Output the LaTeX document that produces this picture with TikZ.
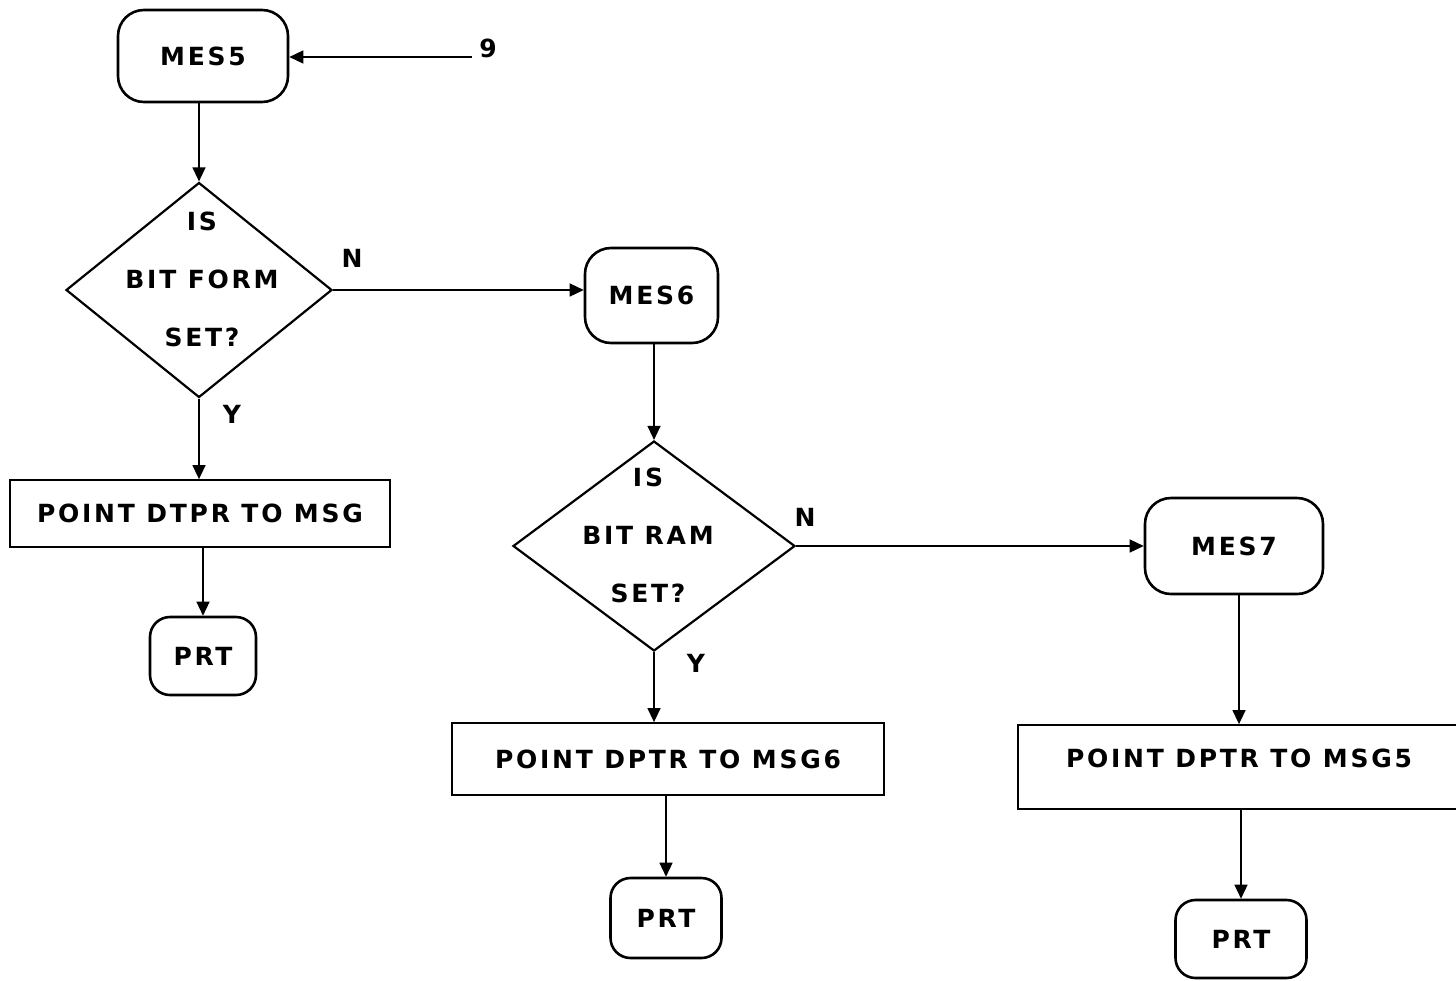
\documentclass[tikz,border=0pt]{standalone}
\usepackage{fontspec}
\setmainfont{DejaVu Sans}[LetterSpace=11]
\usetikzlibrary{shapes.geometric,arrows.meta}

\begin{document}
\begin{tikzpicture}[
  x=0.5pt, y=-0.5pt,
  txt/.style={font=\fontsize{12.5}{14}\selectfont\bfseries},
  term/.style={draw, line width=1.3pt, rounded corners=13pt, inner sep=0pt, txt},
  proc/.style={draw, line width=0.9pt, rectangle, inner sep=0pt, txt},
  decision/.style={draw, diamond, line width=1.1pt, inner sep=0pt},
  dtext/.style={align=center, inner sep=0pt, font=\fontsize{12.5}{29}\selectfont\bfseries},
  flow/.style={line width=0.7pt, -{Triangle[length=7pt,width=6.5pt]}},
  lbl/.style={inner sep=0pt, txt}
]
\useasboundingbox (0,0) rectangle (1456,980);

% entry point
\node[term, minimum width=85pt, minimum height=46pt] (m5) at (203,56) {MES5};
\node[lbl] (in9) at (488,48) {9};
\coordinate (c9) at (472,57);

% first test
\node[decision, minimum width=133pt, minimum height=107.5pt] (d1) at (199,290) {};
\node[dtext] (d1t) at (202,279) {IS\\BIT FORM\\SET?};
\node[lbl] (n1) at (352,258) {N};
\node[lbl] (y1) at (232,414) {Y};
\node[proc, minimum width=190pt, minimum height=33.5pt] (p1) at (200,513.5) {POINT DTPR TO MSG};
\node[term, rounded corners=10pt, minimum width=53pt, minimum height=39pt] (r1) at (203,656) {PRT};

% second test
\node[term, minimum width=66.5pt, minimum height=47.5pt] (m6) at (651.5,295.5) {MES6};
\node[decision, minimum width=141pt, minimum height=105pt] (d2) at (654,546) {};
\node[dtext] (d2t) at (648,535) {IS\\BIT RAM\\SET?};
\node[lbl] (n2) at (805,517) {N};
\node[lbl] (y2) at (696,663) {Y};
\node[proc, minimum width=216pt, minimum height=36pt] (p2) at (668,759) {POINT DPTR TO MSG6};
\node[term, rounded corners=10pt, minimum width=55.5pt, minimum height=40pt] (r2) at (666,918) {PRT};

% third branch
\node[term, minimum width=89pt, minimum height=48pt] (m7) at (1234,546) {MES7};
\node[proc, minimum width=221pt, minimum height=42pt, text depth=9pt] (p3) at (1239,767) {POINT DPTR TO MSG5};
\node[term, rounded corners=10pt, minimum width=65.5pt, minimum height=39pt] (r3) at (1241,939) {PRT};

% connectors
\draw[flow] (c9) -- (c9 -| m5.east);
\draw[flow] (m5.south -| d1.north) -- (d1.north);
\draw[flow] (d1.east) -- (d1.east -| m6.west);
\draw[flow] (d1.south) -- (d1.south |- p1.north);
\draw[flow] (p1.south -| r1.north) -- (r1.north);
\draw[flow] (m6.south -| d2.north) -- (d2.north);
\draw[flow] (d2.east) -- (d2.east -| m7.west);
\draw[flow] (d2.south) -- (d2.south |- p2.north);
\draw[flow] (p2.south -| r2.north) -- (r2.north);
\draw[flow] (m7.south -| p3.north) -- (p3.north);
\draw[flow] (p3.south -| r3.north) -- (r3.north);
\end{tikzpicture}
\end{document}
